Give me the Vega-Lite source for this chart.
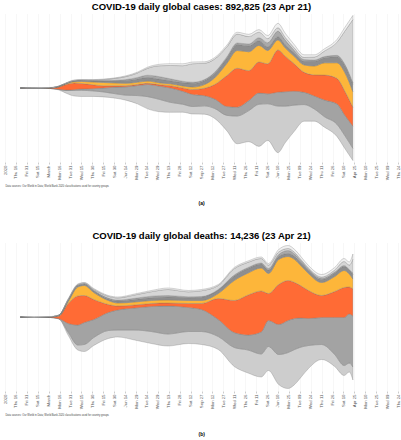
{
"$schema":"https://vega.github.io/schema/vega-lite/v6.json",
"background":"white",
"padding":{"left":3,"right":2,"top":1,"bottom":0},
"config":{"view":{"stroke":null},"font":"Liberation Sans"},
"datasets":{
"groups":[
{"g":"NA","o":1,"lc":"North America (73986, 8%)","ld":"North America (912, 6%)"},
{"g":"LA","o":2,"lc":"Latin America and Caribbean (181792, 20%)","ld":"Latin America and Caribbean (5386, 38%)"},
{"g":"TR","o":3,"lc":"Trusted countries (111107, 12%)","ld":"Trusted countries (2316, 16%)"},
{"g":"RE","o":4,"lc":"Rest of Europe/Central Asia (98209, 11%)","ld":"Rest of Europe/Central Asia (1616, 11%)"},
{"g":"ME","o":5,"lc":"Middle East and North Africa (40225, 5%)","ld":"Middle East and North Africa (732, 5%)"},
{"g":"SS","o":6,"lc":"Sub-saharan Africa (7363, 1%)","ld":"Sub-saharan Africa (156, 1%)"},
{"g":"SA","o":7,"lc":"South Asia (354025, 40%)","ld":"South Asia (2701, 19%)"},
{"g":"EA","o":8,"lc":"East Asia and Pacific (26118, 3%)","ld":"East Asia and Pacific (417, 3%)"}
],
"cases":[
{"d":"2020-01-22","g":"NA","v":0},{"d":"2020-01-22","g":"LA","v":0},{"d":"2020-01-22","g":"TR","v":0},{"d":"2020-01-22","g":"RE","v":0},{"d":"2020-01-22","g":"ME","v":0},{"d":"2020-01-22","g":"SS","v":0},{"d":"2020-01-22","g":"SA","v":0},{"d":"2020-01-22","g":"EA","v":600},
{"d":"2020-02-10","g":"NA","v":0},{"d":"2020-02-10","g":"LA","v":0},{"d":"2020-02-10","g":"TR","v":0},{"d":"2020-02-10","g":"RE","v":0},{"d":"2020-02-10","g":"ME","v":0},{"d":"2020-02-10","g":"SS","v":0},{"d":"2020-02-10","g":"SA","v":0},{"d":"2020-02-10","g":"EA","v":3000},
{"d":"2020-03-01","g":"NA","v":300},{"d":"2020-03-01","g":"LA","v":0},{"d":"2020-03-01","g":"TR","v":1200},{"d":"2020-03-01","g":"RE","v":300},{"d":"2020-03-01","g":"ME","v":1200},{"d":"2020-03-01","g":"SS","v":0},{"d":"2020-03-01","g":"SA","v":0},{"d":"2020-03-01","g":"EA","v":1800},
{"d":"2020-03-15","g":"NA","v":3000},{"d":"2020-03-15","g":"LA","v":600},{"d":"2020-03-15","g":"TR","v":12000},{"d":"2020-03-15","g":"RE","v":1800},{"d":"2020-03-15","g":"ME","v":2400},{"d":"2020-03-15","g":"SS","v":0},{"d":"2020-03-15","g":"SA","v":300},{"d":"2020-03-15","g":"EA","v":1200},
{"d":"2020-03-25","g":"NA","v":15000},{"d":"2020-03-25","g":"LA","v":1800},{"d":"2020-03-25","g":"TR","v":30000},{"d":"2020-03-25","g":"RE","v":3600},{"d":"2020-03-25","g":"ME","v":3000},{"d":"2020-03-25","g":"SS","v":300},{"d":"2020-03-25","g":"SA","v":600},{"d":"2020-03-25","g":"EA","v":1800},
{"d":"2020-04-05","g":"NA","v":30000},{"d":"2020-04-05","g":"LA","v":4200},{"d":"2020-04-05","g":"TR","v":36000},{"d":"2020-04-05","g":"RE","v":7200},{"d":"2020-04-05","g":"ME","v":4200},{"d":"2020-04-05","g":"SS","v":600},{"d":"2020-04-05","g":"SA","v":1800},{"d":"2020-04-05","g":"EA","v":2400},
{"d":"2020-04-15","g":"NA","v":33000},{"d":"2020-04-15","g":"LA","v":7200},{"d":"2020-04-15","g":"TR","v":30000},{"d":"2020-04-15","g":"RE","v":10800},{"d":"2020-04-15","g":"ME","v":5400},{"d":"2020-04-15","g":"SS","v":900},{"d":"2020-04-15","g":"SA","v":1800},{"d":"2020-04-15","g":"EA","v":2400},
{"d":"2020-05-01","g":"NA","v":30000},{"d":"2020-05-01","g":"LA","v":12000},{"d":"2020-05-01","g":"TR","v":21000},{"d":"2020-05-01","g":"RE","v":15000},{"d":"2020-05-01","g":"ME","v":6000},{"d":"2020-05-01","g":"SS","v":1800},{"d":"2020-05-01","g":"SA","v":3000},{"d":"2020-05-01","g":"EA","v":2400},
{"d":"2020-05-15","g":"NA","v":27000},{"d":"2020-05-15","g":"LA","v":21000},{"d":"2020-05-15","g":"TR","v":12000},{"d":"2020-05-15","g":"RE","v":18000},{"d":"2020-05-15","g":"ME","v":7800},{"d":"2020-05-15","g":"SS","v":2400},{"d":"2020-05-15","g":"SA","v":5400},{"d":"2020-05-15","g":"EA","v":2400},
{"d":"2020-06-01","g":"NA","v":24000},{"d":"2020-06-01","g":"LA","v":36000},{"d":"2020-06-01","g":"TR","v":7200},{"d":"2020-06-01","g":"RE","v":15000},{"d":"2020-06-01","g":"ME","v":12000},{"d":"2020-06-01","g":"SS","v":3000},{"d":"2020-06-01","g":"SA","v":10200},{"d":"2020-06-01","g":"EA","v":3000},
{"d":"2020-06-15","g":"NA","v":27000},{"d":"2020-06-15","g":"LA","v":45000},{"d":"2020-06-15","g":"TR","v":6000},{"d":"2020-06-15","g":"RE","v":13200},{"d":"2020-06-15","g":"ME","v":15000},{"d":"2020-06-15","g":"SS","v":4800},{"d":"2020-06-15","g":"SA","v":16200},{"d":"2020-06-15","g":"EA","v":4200},
{"d":"2020-07-01","g":"NA","v":45000},{"d":"2020-07-01","g":"LA","v":54000},{"d":"2020-07-01","g":"TR","v":6000},{"d":"2020-07-01","g":"RE","v":12000},{"d":"2020-07-01","g":"ME","v":18000},{"d":"2020-07-01","g":"SS","v":7800},{"d":"2020-07-01","g":"SA","v":24000},{"d":"2020-07-01","g":"EA","v":4800},
{"d":"2020-07-15","g":"NA","v":66000},{"d":"2020-07-15","g":"LA","v":66000},{"d":"2020-07-15","g":"TR","v":6000},{"d":"2020-07-15","g":"RE","v":12000},{"d":"2020-07-15","g":"ME","v":19800},{"d":"2020-07-15","g":"SS","v":12000},{"d":"2020-07-15","g":"SA","v":37800},{"d":"2020-07-15","g":"EA","v":6000},
{"d":"2020-08-01","g":"NA","v":66000},{"d":"2020-08-01","g":"LA","v":72000},{"d":"2020-08-01","g":"TR","v":7800},{"d":"2020-08-01","g":"RE","v":10200},{"d":"2020-08-01","g":"ME","v":19200},{"d":"2020-08-01","g":"SS","v":13800},{"d":"2020-08-01","g":"SA","v":60000},{"d":"2020-08-01","g":"EA","v":7800},
{"d":"2020-08-15","g":"NA","v":54000},{"d":"2020-08-15","g":"LA","v":78000},{"d":"2020-08-15","g":"TR","v":12000},{"d":"2020-08-15","g":"RE","v":10200},{"d":"2020-08-15","g":"ME","v":16800},{"d":"2020-08-15","g":"SS","v":10200},{"d":"2020-08-15","g":"SA","v":72000},{"d":"2020-08-15","g":"EA","v":9600},
{"d":"2020-09-01","g":"NA","v":43200},{"d":"2020-09-01","g":"LA","v":70200},{"d":"2020-09-01","g":"TR","v":18000},{"d":"2020-09-01","g":"RE","v":10800},{"d":"2020-09-01","g":"ME","v":18000},{"d":"2020-09-01","g":"SS","v":7200},{"d":"2020-09-01","g":"SA","v":84000},{"d":"2020-09-01","g":"EA","v":10200},
{"d":"2020-09-15","g":"NA","v":40200},{"d":"2020-09-15","g":"LA","v":64800},{"d":"2020-09-15","g":"TR","v":27000},{"d":"2020-09-15","g":"RE","v":13800},{"d":"2020-09-15","g":"ME","v":19800},{"d":"2020-09-15","g":"SS","v":6000},{"d":"2020-09-15","g":"SA","v":100200},{"d":"2020-09-15","g":"EA","v":9000},
{"d":"2020-10-01","g":"NA","v":45000},{"d":"2020-10-01","g":"LA","v":55200},{"d":"2020-10-01","g":"TR","v":40200},{"d":"2020-10-01","g":"RE","v":19800},{"d":"2020-10-01","g":"ME","v":22200},{"d":"2020-10-01","g":"SS","v":4800},{"d":"2020-10-01","g":"SA","v":88200},{"d":"2020-10-01","g":"EA","v":7800},
{"d":"2020-10-15","g":"NA","v":54000},{"d":"2020-10-15","g":"LA","v":51000},{"d":"2020-10-15","g":"TR","v":78000},{"d":"2020-10-15","g":"RE","v":36000},{"d":"2020-10-15","g":"ME","v":24000},{"d":"2020-10-15","g":"SS","v":6000},{"d":"2020-10-15","g":"SA","v":72000},{"d":"2020-10-15","g":"EA","v":7800},
{"d":"2020-11-01","g":"NA","v":84000},{"d":"2020-11-01","g":"LA","v":48000},{"d":"2020-11-01","g":"TR","v":168000},{"d":"2020-11-01","g":"RE","v":66000},{"d":"2020-11-01","g":"ME","v":28200},{"d":"2020-11-01","g":"SS","v":7200},{"d":"2020-11-01","g":"SA","v":54000},{"d":"2020-11-01","g":"EA","v":9000},
{"d":"2020-11-15","g":"NA","v":150000},{"d":"2020-11-15","g":"LA","v":48000},{"d":"2020-11-15","g":"TR","v":210000},{"d":"2020-11-15","g":"RE","v":96000},{"d":"2020-11-15","g":"ME","v":33000},{"d":"2020-11-15","g":"SS","v":7800},{"d":"2020-11-15","g":"SA","v":48000},{"d":"2020-11-15","g":"EA","v":10200},
{"d":"2020-12-01","g":"NA","v":168000},{"d":"2020-12-01","g":"LA","v":54000},{"d":"2020-12-01","g":"TR","v":162000},{"d":"2020-12-01","g":"RE","v":102000},{"d":"2020-12-01","g":"ME","v":31800},{"d":"2020-12-01","g":"SS","v":10200},{"d":"2020-12-01","g":"SA","v":40200},{"d":"2020-12-01","g":"EA","v":12000},
{"d":"2020-12-15","g":"NA","v":228000},{"d":"2020-12-15","g":"LA","v":60000},{"d":"2020-12-15","g":"TR","v":168000},{"d":"2020-12-15","g":"RE","v":90000},{"d":"2020-12-15","g":"ME","v":25200},{"d":"2020-12-15","g":"SS","v":16200},{"d":"2020-12-15","g":"SA","v":30000},{"d":"2020-12-15","g":"EA","v":13800},
{"d":"2020-12-27","g":"NA","v":198000},{"d":"2020-12-27","g":"LA","v":54000},{"d":"2020-12-27","g":"TR","v":162000},{"d":"2020-12-27","g":"RE","v":72000},{"d":"2020-12-27","g":"ME","v":19800},{"d":"2020-12-27","g":"SS","v":22200},{"d":"2020-12-27","g":"SA","v":22200},{"d":"2020-12-27","g":"EA","v":16200},
{"d":"2021-01-10","g":"NA","v":252000},{"d":"2021-01-10","g":"LA","v":75000},{"d":"2021-01-10","g":"TR","v":228000},{"d":"2021-01-10","g":"RE","v":54000},{"d":"2021-01-10","g":"ME","v":18000},{"d":"2021-01-10","g":"SS","v":30000},{"d":"2021-01-10","g":"SA","v":18000},{"d":"2021-01-10","g":"EA","v":24000},
{"d":"2021-01-20","g":"NA","v":198000},{"d":"2021-01-20","g":"LA","v":78000},{"d":"2021-01-20","g":"TR","v":192000},{"d":"2021-01-20","g":"RE","v":45000},{"d":"2021-01-20","g":"ME","v":16800},{"d":"2021-01-20","g":"SS","v":25200},{"d":"2021-01-20","g":"SA","v":15000},{"d":"2021-01-20","g":"EA","v":22200},
{"d":"2021-02-01","g":"NA","v":144000},{"d":"2021-02-01","g":"LA","v":75000},{"d":"2021-02-01","g":"TR","v":150000},{"d":"2021-02-01","g":"RE","v":40200},{"d":"2021-02-01","g":"ME","v":18000},{"d":"2021-02-01","g":"SS","v":15000},{"d":"2021-02-01","g":"SA","v":13200},{"d":"2021-02-01","g":"EA","v":18000},
{"d":"2021-02-15","g":"NA","v":90000},{"d":"2021-02-15","g":"LA","v":66000},{"d":"2021-02-15","g":"TR","v":108000},{"d":"2021-02-15","g":"RE","v":40200},{"d":"2021-02-15","g":"ME","v":19800},{"d":"2021-02-15","g":"SS","v":9000},{"d":"2021-02-15","g":"SA","v":12000},{"d":"2021-02-15","g":"EA","v":13800},
{"d":"2021-03-01","g":"NA","v":66000},{"d":"2021-03-01","g":"LA","v":70200},{"d":"2021-03-01","g":"TR","v":114000},{"d":"2021-03-01","g":"RE","v":48000},{"d":"2021-03-01","g":"ME","v":25200},{"d":"2021-03-01","g":"SS","v":7200},{"d":"2021-03-01","g":"SA","v":16200},{"d":"2021-03-01","g":"EA","v":12000},
{"d":"2021-03-15","g":"NA","v":57000},{"d":"2021-03-15","g":"LA","v":90000},{"d":"2021-03-15","g":"TR","v":135000},{"d":"2021-03-15","g":"RE","v":66000},{"d":"2021-03-15","g":"ME","v":28200},{"d":"2021-03-15","g":"SS","v":6000},{"d":"2021-03-15","g":"SA","v":30000},{"d":"2021-03-15","g":"EA","v":12000},
{"d":"2021-04-01","g":"NA","v":66000},{"d":"2021-04-01","g":"LA","v":109800},{"d":"2021-04-01","g":"TR","v":138000},{"d":"2021-04-01","g":"RE","v":84000},{"d":"2021-04-01","g":"ME","v":33000},{"d":"2021-04-01","g":"SS","v":7200},{"d":"2021-04-01","g":"SA","v":70200},{"d":"2021-04-01","g":"EA","v":15000},
{"d":"2021-04-12","g":"NA","v":70200},{"d":"2021-04-12","g":"LA","v":109800},{"d":"2021-04-12","g":"TR","v":130200},{"d":"2021-04-12","g":"RE","v":100200},{"d":"2021-04-12","g":"ME","v":37800},{"d":"2021-04-12","g":"SS","v":7200},{"d":"2021-04-12","g":"SA","v":180000},{"d":"2021-04-12","g":"EA","v":19800},
{"d":"2021-04-23","g":"NA","v":66000},{"d":"2021-04-23","g":"LA","v":120000},{"d":"2021-04-23","g":"TR","v":102000},{"d":"2021-04-23","g":"RE","v":84000},{"d":"2021-04-23","g":"ME","v":40200},{"d":"2021-04-23","g":"SS","v":7800},{"d":"2021-04-23","g":"SA","v":342000},{"d":"2021-04-23","g":"EA","v":22200}
],
"deaths":[
{"d":"2020-01-22","g":"NA","v":0},{"d":"2020-01-22","g":"LA","v":0},{"d":"2020-01-22","g":"TR","v":0},{"d":"2020-01-22","g":"RE","v":0},{"d":"2020-01-22","g":"ME","v":0},{"d":"2020-01-22","g":"SS","v":0},{"d":"2020-01-22","g":"SA","v":0},{"d":"2020-01-22","g":"EA","v":20},
{"d":"2020-02-10","g":"NA","v":0},{"d":"2020-02-10","g":"LA","v":0},{"d":"2020-02-10","g":"TR","v":0},{"d":"2020-02-10","g":"RE","v":0},{"d":"2020-02-10","g":"ME","v":0},{"d":"2020-02-10","g":"SS","v":0},{"d":"2020-02-10","g":"SA","v":0},{"d":"2020-02-10","g":"EA","v":90},
{"d":"2020-03-01","g":"NA","v":0},{"d":"2020-03-01","g":"LA","v":0},{"d":"2020-03-01","g":"TR","v":20},{"d":"2020-03-01","g":"RE","v":0},{"d":"2020-03-01","g":"ME","v":20},{"d":"2020-03-01","g":"SS","v":0},{"d":"2020-03-01","g":"SA","v":0},{"d":"2020-03-01","g":"EA","v":40},
{"d":"2020-03-15","g":"NA","v":30},{"d":"2020-03-15","g":"LA","v":10},{"d":"2020-03-15","g":"TR","v":250},{"d":"2020-03-15","g":"RE","v":30},{"d":"2020-03-15","g":"ME","v":60},{"d":"2020-03-15","g":"SS","v":2},{"d":"2020-03-15","g":"SA","v":5},{"d":"2020-03-15","g":"EA","v":20},
{"d":"2020-03-28","g":"NA","v":300},{"d":"2020-03-28","g":"LA","v":900},{"d":"2020-03-28","g":"TR","v":2000},{"d":"2020-03-28","g":"RE","v":200},{"d":"2020-03-28","g":"ME","v":150},{"d":"2020-03-28","g":"SS","v":30},{"d":"2020-03-28","g":"SA","v":50},{"d":"2020-03-28","g":"EA","v":70},
{"d":"2020-04-10","g":"NA","v":500},{"d":"2020-04-10","g":"LA","v":2000},{"d":"2020-04-10","g":"TR","v":2900},{"d":"2020-04-10","g":"RE","v":900},{"d":"2020-04-10","g":"ME","v":150},{"d":"2020-04-10","g":"SS","v":40},{"d":"2020-04-10","g":"SA","v":50},{"d":"2020-04-10","g":"EA","v":60},
{"d":"2020-04-19","g":"NA","v":700},{"d":"2020-04-19","g":"LA","v":2200},{"d":"2020-04-19","g":"TR","v":2700},{"d":"2020-04-19","g":"RE","v":1000},{"d":"2020-04-19","g":"ME","v":150},{"d":"2020-04-19","g":"SS","v":40},{"d":"2020-04-19","g":"SA","v":60},{"d":"2020-04-19","g":"EA","v":50},
{"d":"2020-05-02","g":"NA","v":800},{"d":"2020-05-02","g":"LA","v":1800},{"d":"2020-05-02","g":"TR","v":2000},{"d":"2020-05-02","g":"RE","v":700},{"d":"2020-05-02","g":"ME","v":150},{"d":"2020-05-02","g":"SS","v":70},{"d":"2020-05-02","g":"SA","v":100},{"d":"2020-05-02","g":"EA","v":80},
{"d":"2020-05-22","g":"NA","v":800},{"d":"2020-05-22","g":"LA","v":1800},{"d":"2020-05-22","g":"TR","v":800},{"d":"2020-05-22","g":"RE","v":400},{"d":"2020-05-22","g":"ME","v":150},{"d":"2020-05-22","g":"SS","v":90},{"d":"2020-05-22","g":"SA","v":180},{"d":"2020-05-22","g":"EA","v":80},
{"d":"2020-06-04","g":"NA","v":700},{"d":"2020-06-04","g":"LA","v":2000},{"d":"2020-06-04","g":"TR","v":400},{"d":"2020-06-04","g":"RE","v":300},{"d":"2020-06-04","g":"ME","v":200},{"d":"2020-06-04","g":"SS","v":90},{"d":"2020-06-04","g":"SA","v":220},{"d":"2020-06-04","g":"EA","v":90},
{"d":"2020-06-27","g":"NA","v":1000},{"d":"2020-06-27","g":"LA","v":2200},{"d":"2020-06-27","g":"TR","v":300},{"d":"2020-06-27","g":"RE","v":300},{"d":"2020-06-27","g":"ME","v":250},{"d":"2020-06-27","g":"SS","v":120},{"d":"2020-06-27","g":"SA","v":330},{"d":"2020-06-27","g":"EA","v":100},
{"d":"2020-07-20","g":"NA","v":1200},{"d":"2020-07-20","g":"LA","v":2500},{"d":"2020-07-20","g":"TR","v":300},{"d":"2020-07-20","g":"RE","v":300},{"d":"2020-07-20","g":"ME","v":280},{"d":"2020-07-20","g":"SS","v":150},{"d":"2020-07-20","g":"SA","v":450},{"d":"2020-07-20","g":"EA","v":120},
{"d":"2020-08-12","g":"NA","v":1200},{"d":"2020-08-12","g":"LA","v":2800},{"d":"2020-08-12","g":"TR","v":300},{"d":"2020-08-12","g":"RE","v":300},{"d":"2020-08-12","g":"ME","v":300},{"d":"2020-08-12","g":"SS","v":150},{"d":"2020-08-12","g":"SA","v":600},{"d":"2020-08-12","g":"EA","v":150},
{"d":"2020-09-09","g":"NA","v":1200},{"d":"2020-09-09","g":"LA","v":2400},{"d":"2020-09-09","g":"TR","v":400},{"d":"2020-09-09","g":"RE","v":300},{"d":"2020-09-09","g":"ME","v":280},{"d":"2020-09-09","g":"SS","v":90},{"d":"2020-09-09","g":"SA","v":500},{"d":"2020-09-09","g":"EA","v":130},
{"d":"2020-09-27","g":"NA","v":1300},{"d":"2020-09-27","g":"LA","v":2200},{"d":"2020-09-27","g":"TR","v":600},{"d":"2020-09-27","g":"RE","v":300},{"d":"2020-09-27","g":"ME","v":330},{"d":"2020-09-27","g":"SS","v":70},{"d":"2020-09-27","g":"SA","v":580},{"d":"2020-09-27","g":"EA","v":120},
{"d":"2020-10-20","g":"NA","v":1300},{"d":"2020-10-20","g":"LA","v":1700},{"d":"2020-10-20","g":"TR","v":2100},{"d":"2020-10-20","g":"RE","v":500},{"d":"2020-10-20","g":"ME","v":350},{"d":"2020-10-20","g":"SS","v":50},{"d":"2020-10-20","g":"SA","v":400},{"d":"2020-10-20","g":"EA","v":100},
{"d":"2020-11-11","g":"NA","v":1900},{"d":"2020-11-11","g":"LA","v":1500},{"d":"2020-11-11","g":"TR","v":3200},{"d":"2020-11-11","g":"RE","v":2000},{"d":"2020-11-11","g":"ME","v":450},{"d":"2020-11-11","g":"SS","v":100},{"d":"2020-11-11","g":"SA","v":630},{"d":"2020-11-11","g":"EA","v":120},
{"d":"2020-11-30","g":"NA","v":2300},{"d":"2020-11-30","g":"LA","v":1500},{"d":"2020-11-30","g":"TR","v":4000},{"d":"2020-11-30","g":"RE","v":2200},{"d":"2020-11-30","g":"ME","v":450},{"d":"2020-11-30","g":"SS","v":100},{"d":"2020-11-30","g":"SA","v":520},{"d":"2020-11-30","g":"EA","v":130},
{"d":"2020-12-18","g":"NA","v":2300},{"d":"2020-12-18","g":"LA","v":2200},{"d":"2020-12-18","g":"TR","v":4100},{"d":"2020-12-18","g":"RE","v":2300},{"d":"2020-12-18","g":"ME","v":400},{"d":"2020-12-18","g":"SS","v":100},{"d":"2020-12-18","g":"SA","v":450},{"d":"2020-12-18","g":"EA","v":150},
{"d":"2020-12-28","g":"NA","v":2400},{"d":"2020-12-28","g":"LA","v":2600},{"d":"2020-12-28","g":"TR","v":2700},{"d":"2020-12-28","g":"RE","v":2000},{"d":"2020-12-28","g":"ME","v":350},{"d":"2020-12-28","g":"SS","v":150},{"d":"2020-12-28","g":"SA","v":350},{"d":"2020-12-28","g":"EA","v":150},
{"d":"2021-01-11","g":"NA","v":3000},{"d":"2021-01-11","g":"LA","v":3000},{"d":"2021-01-11","g":"TR","v":4000},{"d":"2021-01-11","g":"RE","v":2500},{"d":"2021-01-11","g":"ME","v":300},{"d":"2021-01-11","g":"SS","v":200},{"d":"2021-01-11","g":"SA","v":250},{"d":"2021-01-11","g":"EA","v":250},
{"d":"2021-01-24","g":"NA","v":3600},{"d":"2021-01-24","g":"LA","v":3200},{"d":"2021-01-24","g":"TR","v":4000},{"d":"2021-01-24","g":"RE","v":2400},{"d":"2021-01-24","g":"ME","v":300},{"d":"2021-01-24","g":"SS","v":300},{"d":"2021-01-24","g":"SA","v":200},{"d":"2021-01-24","g":"EA","v":300},
{"d":"2021-02-02","g":"NA","v":3500},{"d":"2021-02-02","g":"LA","v":3100},{"d":"2021-02-02","g":"TR","v":3600},{"d":"2021-02-02","g":"RE","v":2300},{"d":"2021-02-02","g":"ME","v":300},{"d":"2021-02-02","g":"SS","v":250},{"d":"2021-02-02","g":"SA","v":150},{"d":"2021-02-02","g":"EA","v":300},
{"d":"2021-02-11","g":"NA","v":3000},{"d":"2021-02-11","g":"LA","v":2900},{"d":"2021-02-11","g":"TR","v":3200},{"d":"2021-02-11","g":"RE","v":2000},{"d":"2021-02-11","g":"ME","v":300},{"d":"2021-02-11","g":"SS","v":200},{"d":"2021-02-11","g":"SA","v":120},{"d":"2021-02-11","g":"EA","v":280},
{"d":"2021-02-21","g":"NA","v":2300},{"d":"2021-02-21","g":"LA","v":2700},{"d":"2021-02-21","g":"TR","v":2800},{"d":"2021-02-21","g":"RE","v":1700},{"d":"2021-02-21","g":"ME","v":300},{"d":"2021-02-21","g":"SS","v":150},{"d":"2021-02-21","g":"SA","v":100},{"d":"2021-02-21","g":"EA","v":250},
{"d":"2021-03-11","g":"NA","v":1500},{"d":"2021-03-11","g":"LA","v":2700},{"d":"2021-03-11","g":"TR","v":2200},{"d":"2021-03-11","g":"RE","v":1300},{"d":"2021-03-11","g":"ME","v":300},{"d":"2021-03-11","g":"SS","v":120},{"d":"2021-03-11","g":"SA","v":130},{"d":"2021-03-11","g":"EA","v":250},
{"d":"2021-03-29","g":"NA","v":1200},{"d":"2021-03-29","g":"LA","v":3700},{"d":"2021-03-29","g":"TR","v":2600},{"d":"2021-03-29","g":"RE","v":1500},{"d":"2021-03-29","g":"ME","v":350},{"d":"2021-03-29","g":"SS","v":100},{"d":"2021-03-29","g":"SA","v":200},{"d":"2021-03-29","g":"EA","v":250},
{"d":"2021-04-11","g":"NA","v":1000},{"d":"2021-04-11","g":"LA","v":4800},{"d":"2021-04-11","g":"TR","v":3000},{"d":"2021-04-11","g":"RE","v":1700},{"d":"2021-04-11","g":"ME","v":400},{"d":"2021-04-11","g":"SS","v":100},{"d":"2021-04-11","g":"SA","v":400},{"d":"2021-04-11","g":"EA","v":300},
{"d":"2021-04-18","g":"NA","v":900},{"d":"2021-04-18","g":"LA","v":4900},{"d":"2021-04-18","g":"TR","v":2700},{"d":"2021-04-18","g":"RE","v":1300},{"d":"2021-04-18","g":"ME","v":400},{"d":"2021-04-18","g":"SS","v":50},{"d":"2021-04-18","g":"SA","v":450},{"d":"2021-04-18","g":"EA","v":300},
{"d":"2021-04-23","g":"NA","v":1300},{"d":"2021-04-23","g":"LA","v":5100},{"d":"2021-04-23","g":"TR","v":2700},{"d":"2021-04-23","g":"RE","v":1000},{"d":"2021-04-23","g":"ME","v":450},{"d":"2021-04-23","g":"SS","v":150},{"d":"2021-04-23","g":"SA","v":1400},{"d":"2021-04-23","g":"EA","v":500}
]
},
"vconcat":[
{"title":{"text":"(a)","orient":"bottom","anchor":"middle","fontSize":5,"fontWeight":"bold","offset":14,"color":"#000"},
 "vconcat":[{
  "width":393,"height":148,
  "title":{"text":"COVID-19 daily global cases: 892,825 (23 Apr 21)","fontSize":9.5,"fontWeight":"bold","offset":3,"color":"#000"},
  "data":{"name":"cases"},
  "transform":[{"lookup":"g","from":{"data":{"name":"groups"},"key":"g","fields":["o","lc"]}}],
  "encoding":{"x":{"field":"d","type":"temporal",
     "scale":{"type":"utc","domain":[{"year":2020,"month":1,"date":1,"utc":true},{"year":2021,"month":6,"date":24,"utc":true}]},
     "axis":{"format":"%d-%b-%y","formatType":"utc","labelAngle":270,"labelFontSize":4.3,"labelColor":"#555","labelPadding":1,"labelOverlap":false,"labelFlush":false,"tickSize":2,"tickColor":"#999","tickWidth":0.5,"domain":false,"grid":true,"gridColor":"#dcdcdc","gridWidth":0.5,"gridDash":[1,1],
       "title":"Data sources: Our World in Data; World Bank 2020 classifications used for country groups","titleFontSize":2.6,"titleFontWeight":"normal","titleColor":"#444","titleAnchor":"start","titleAlign":"left","titlePadding":5,
       "values":[{"year":2020,"month":1,"date":1,"utc":true},{"year":2020,"month":1,"date":16,"utc":true},{"year":2020,"month":1,"date":31,"utc":true},{"year":2020,"month":2,"date":15,"utc":true},{"year":2020,"month":3,"date":1,"utc":true},{"year":2020,"month":3,"date":16,"utc":true},{"year":2020,"month":3,"date":31,"utc":true},{"year":2020,"month":4,"date":15,"utc":true},{"year":2020,"month":4,"date":30,"utc":true},{"year":2020,"month":5,"date":15,"utc":true},{"year":2020,"month":5,"date":30,"utc":true},{"year":2020,"month":6,"date":14,"utc":true},{"year":2020,"month":6,"date":29,"utc":true},{"year":2020,"month":7,"date":14,"utc":true},{"year":2020,"month":7,"date":29,"utc":true},{"year":2020,"month":8,"date":13,"utc":true},{"year":2020,"month":8,"date":28,"utc":true},{"year":2020,"month":9,"date":12,"utc":true},{"year":2020,"month":9,"date":27,"utc":true},{"year":2020,"month":10,"date":12,"utc":true},{"year":2020,"month":10,"date":27,"utc":true},{"year":2020,"month":11,"date":11,"utc":true},{"year":2020,"month":11,"date":26,"utc":true},{"year":2020,"month":12,"date":11,"utc":true},{"year":2020,"month":12,"date":26,"utc":true},{"year":2021,"month":1,"date":10,"utc":true},{"year":2021,"month":1,"date":25,"utc":true},{"year":2021,"month":2,"date":9,"utc":true},{"year":2021,"month":2,"date":24,"utc":true},{"year":2021,"month":3,"date":11,"utc":true},{"year":2021,"month":3,"date":26,"utc":true},{"year":2021,"month":4,"date":10,"utc":true},{"year":2021,"month":4,"date":25,"utc":true},{"year":2021,"month":5,"date":10,"utc":true},{"year":2021,"month":5,"date":25,"utc":true},{"year":2021,"month":6,"date":9,"utc":true},{"year":2021,"month":6,"date":24,"utc":true}]}}},
  "layer":[
   {"mark":{"type":"area","interpolate":"monotone","stroke":"#6f6f6f","strokeWidth":0.3},
    "encoding":{
     "y":{"field":"v","type":"quantitative","stack":"center","scale":{"domain":[-7900,792100],"nice":false,"zero":false},"axis":null},
     "order":{"field":"o","type":"quantitative"},
     "color":{"field":"g","type":"nominal","legend":null,"scale":{"domain":["NA","LA","TR","RE","ME","SS","SA","EA"],"range":["#cdcdcd","#a3a3a3","#ff6b35","#fdb63a","#8e8e8e","#a9a9a9","#d6d6d6","#f0f0f0"]}}}},
   {"transform":[{"filter":"datum.d == '2021-04-23'"},{"stack":"v","groupby":["d"],"sort":[{"field":"o","order":"ascending"}],"as":["y0","y1"],"offset":"center"},{"calculate":"(datum.y0+datum.y1)/2","as":"ym"}],
    "mark":{"type":"text","align":"left","dx":1.5,"fontSize":2.4,"color":"#222"},
    "encoding":{"y":{"field":"ym","type":"quantitative","scale":{"domain":[-7900,792100],"nice":false,"zero":false}},"text":{"field":"lc"},
      "fontWeight":{"condition":{"test":"datum.g == 'TR'","value":"bold"},"value":"normal"}}}
  ]}]},
{"title":{"text":"(b)","orient":"bottom","anchor":"middle","fontSize":5,"fontWeight":"bold","offset":16,"color":"#000"},
 "vconcat":[{
  "width":393,"height":148,
  "title":{"text":"COVID-19 daily global deaths:  14,236 (23 Apr 21)","fontSize":9.5,"fontWeight":"bold","offset":3,"color":"#000"},
  "data":{"name":"deaths"},
  "transform":[{"lookup":"g","from":{"data":{"name":"groups"},"key":"g","fields":["o","ld"]}}],
  "encoding":{"x":{"field":"d","type":"temporal",
     "scale":{"type":"utc","domain":[{"year":2020,"month":1,"date":1,"utc":true},{"year":2021,"month":6,"date":24,"utc":true}]},
     "axis":{"format":"%d-%b-%y","formatType":"utc","labelAngle":270,"labelFontSize":4.3,"labelColor":"#555","labelPadding":1,"labelOverlap":false,"labelFlush":false,"tickSize":2,"tickColor":"#999","tickWidth":0.5,"domain":false,"grid":true,"gridColor":"#dcdcdc","gridWidth":0.5,"gridDash":[1,1],
       "title":"Data sources: Our World in Data; World Bank 2020 classifications used for country groups","titleFontSize":2.6,"titleFontWeight":"normal","titleColor":"#444","titleAnchor":"start","titleAlign":"left","titlePadding":5,
       "values":[{"year":2020,"month":1,"date":1,"utc":true},{"year":2020,"month":1,"date":16,"utc":true},{"year":2020,"month":1,"date":31,"utc":true},{"year":2020,"month":2,"date":15,"utc":true},{"year":2020,"month":3,"date":1,"utc":true},{"year":2020,"month":3,"date":16,"utc":true},{"year":2020,"month":3,"date":31,"utc":true},{"year":2020,"month":4,"date":15,"utc":true},{"year":2020,"month":4,"date":30,"utc":true},{"year":2020,"month":5,"date":15,"utc":true},{"year":2020,"month":5,"date":30,"utc":true},{"year":2020,"month":6,"date":14,"utc":true},{"year":2020,"month":6,"date":29,"utc":true},{"year":2020,"month":7,"date":14,"utc":true},{"year":2020,"month":7,"date":29,"utc":true},{"year":2020,"month":8,"date":13,"utc":true},{"year":2020,"month":8,"date":28,"utc":true},{"year":2020,"month":9,"date":12,"utc":true},{"year":2020,"month":9,"date":27,"utc":true},{"year":2020,"month":10,"date":12,"utc":true},{"year":2020,"month":10,"date":27,"utc":true},{"year":2020,"month":11,"date":11,"utc":true},{"year":2020,"month":11,"date":26,"utc":true},{"year":2020,"month":12,"date":11,"utc":true},{"year":2020,"month":12,"date":26,"utc":true},{"year":2021,"month":1,"date":10,"utc":true},{"year":2021,"month":1,"date":25,"utc":true},{"year":2021,"month":2,"date":9,"utc":true},{"year":2021,"month":2,"date":24,"utc":true},{"year":2021,"month":3,"date":11,"utc":true},{"year":2021,"month":3,"date":26,"utc":true},{"year":2021,"month":4,"date":10,"utc":true},{"year":2021,"month":4,"date":25,"utc":true},{"year":2021,"month":5,"date":10,"utc":true},{"year":2021,"month":5,"date":25,"utc":true},{"year":2021,"month":6,"date":9,"utc":true},{"year":2021,"month":6,"date":24,"utc":true}]}}},
  "layer":[
   {"mark":{"type":"area","interpolate":"monotone","stroke":"#6f6f6f","strokeWidth":0.3},
    "encoding":{
     "y":{"field":"v","type":"quantitative","stack":"center","scale":{"domain":[-250,14550],"nice":false,"zero":false},"axis":null},
     "order":{"field":"o","type":"quantitative"},
     "color":{"field":"g","type":"nominal","legend":null,"scale":{"domain":["NA","LA","TR","RE","ME","SS","SA","EA"],"range":["#cdcdcd","#a3a3a3","#ff6b35","#fdb63a","#8e8e8e","#a9a9a9","#d6d6d6","#f0f0f0"]}}}},
   {"transform":[{"filter":"datum.d == '2021-04-23'"},{"stack":"v","groupby":["d"],"sort":[{"field":"o","order":"ascending"}],"as":["y0","y1"],"offset":"center"},{"calculate":"(datum.y0+datum.y1)/2","as":"ym"}],
    "mark":{"type":"text","align":"left","dx":1.5,"fontSize":2.4,"color":"#222"},
    "encoding":{"y":{"field":"ym","type":"quantitative","scale":{"domain":[-250,14550],"nice":false,"zero":false}},"text":{"field":"ld"},
      "fontWeight":{"condition":{"test":"datum.g == 'TR'","value":"bold"},"value":"normal"}}}
  ]}]}
],
"spacing":23
}
